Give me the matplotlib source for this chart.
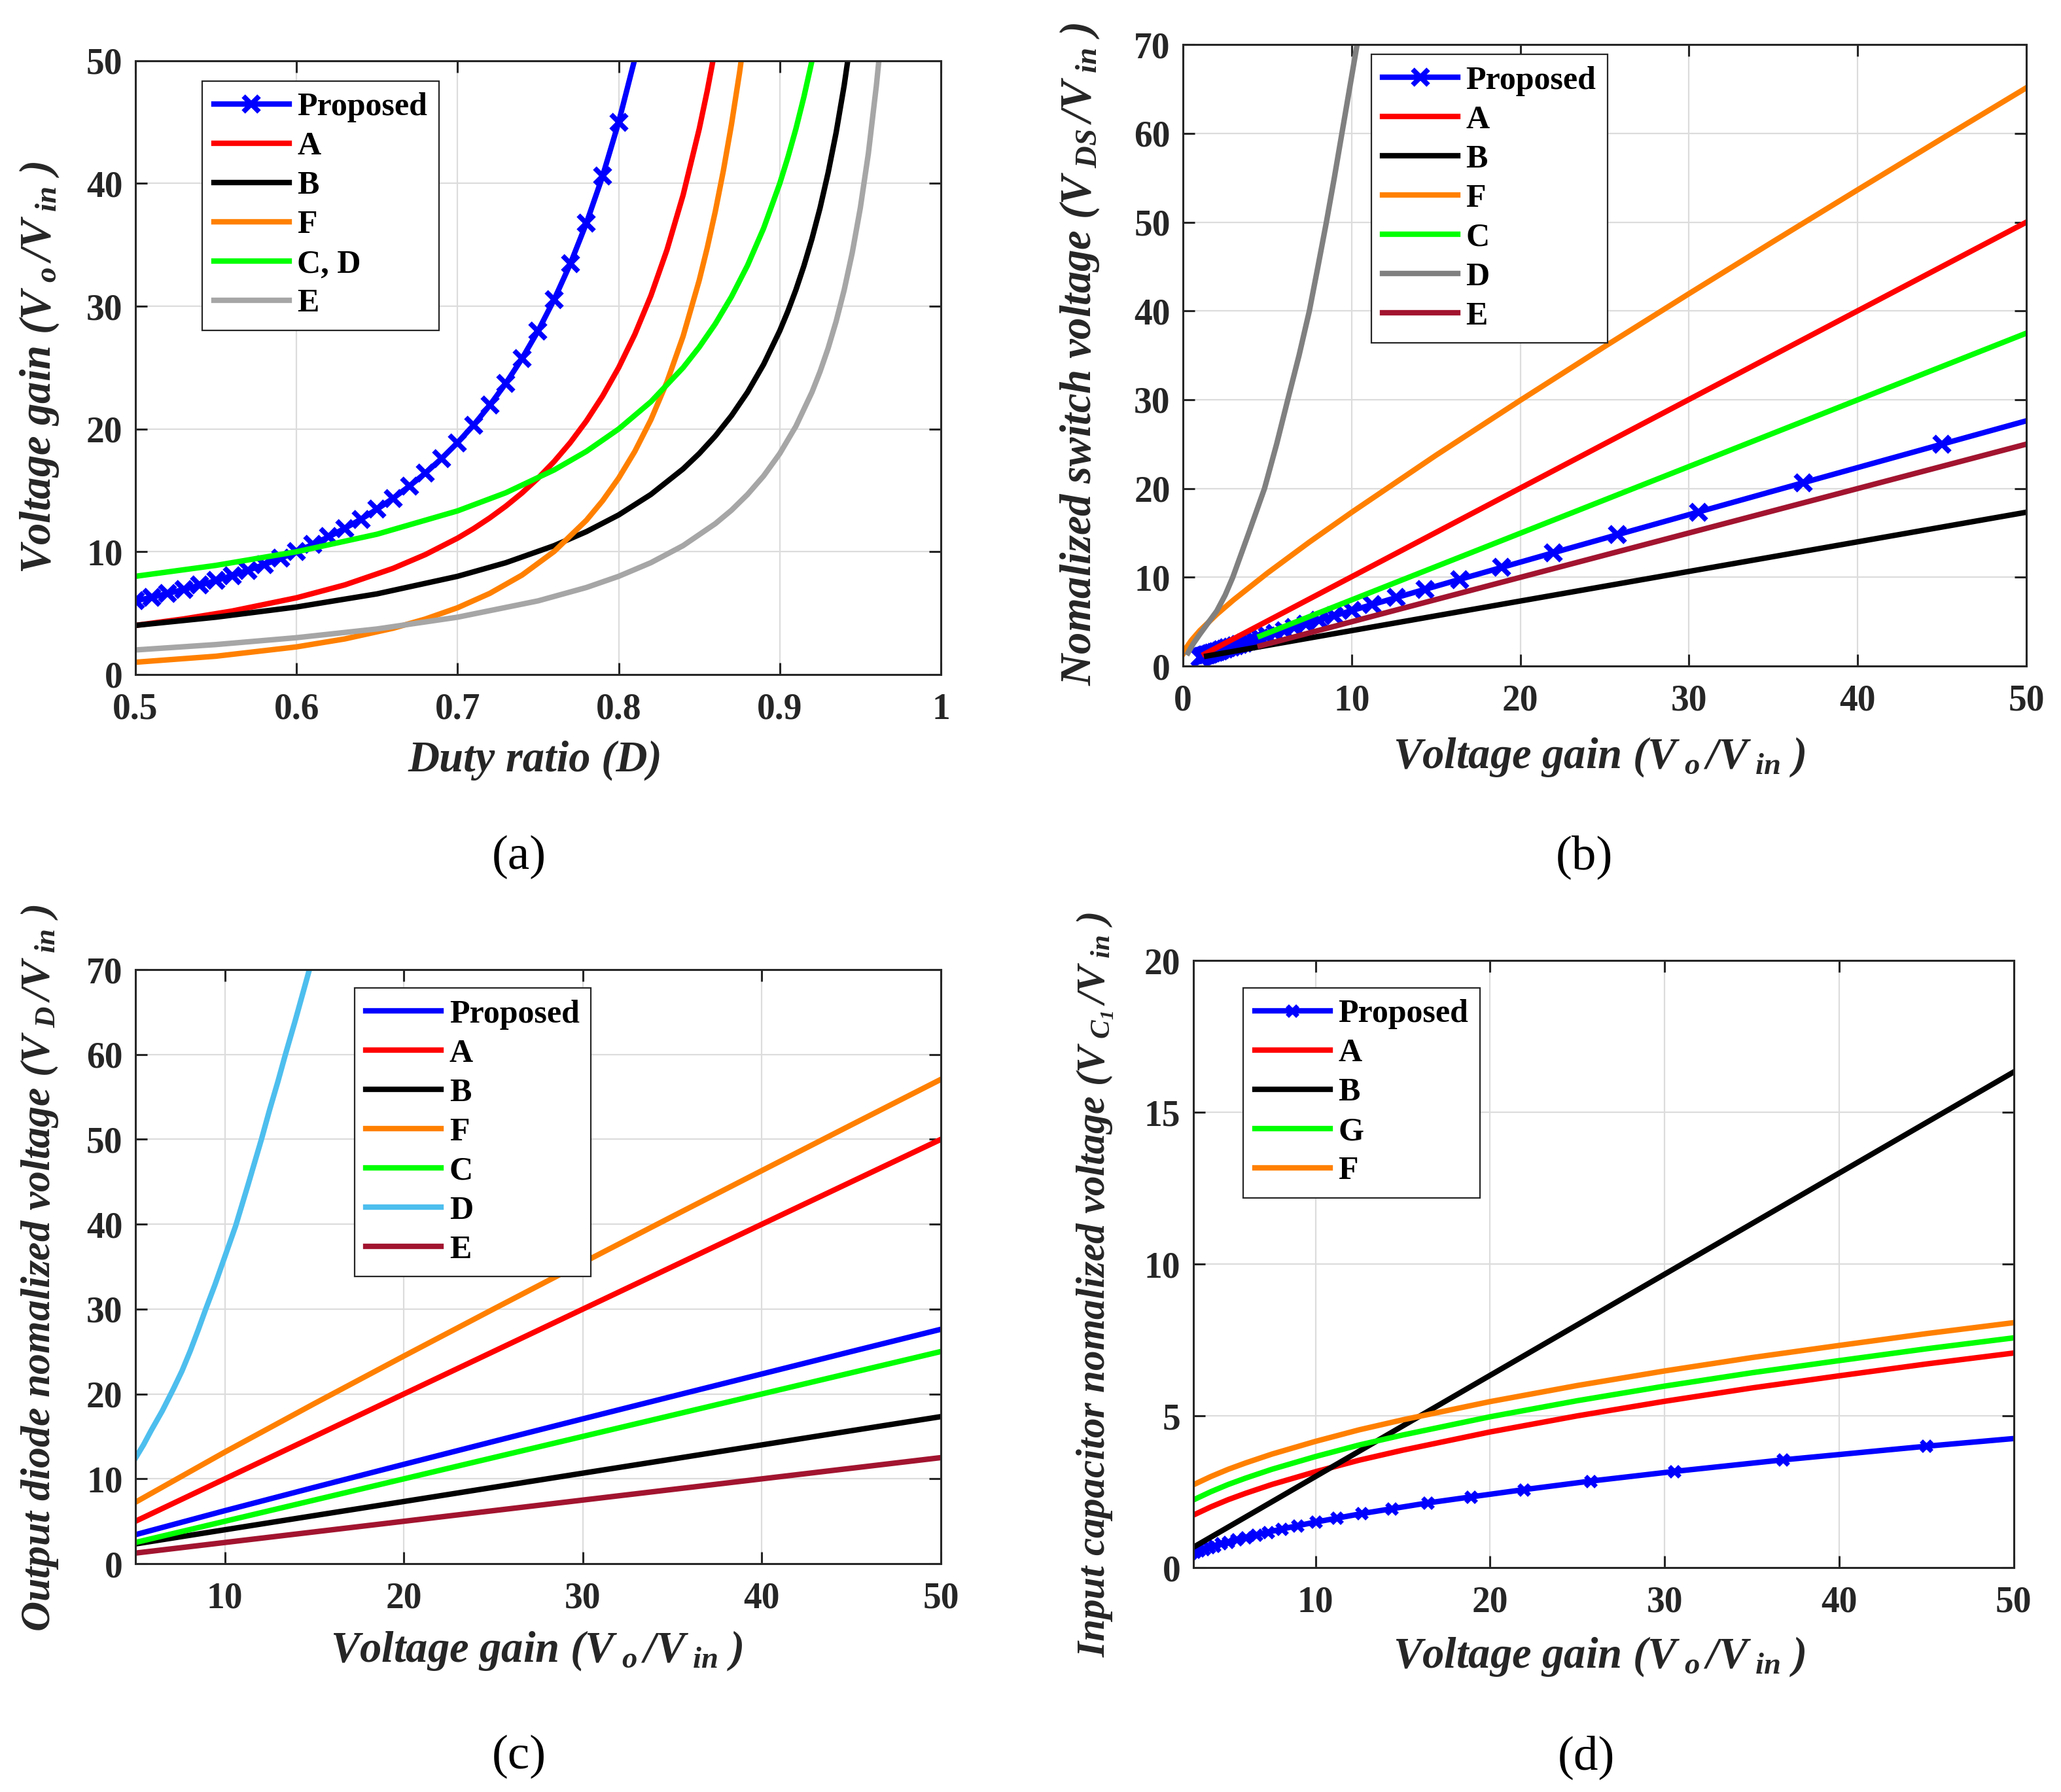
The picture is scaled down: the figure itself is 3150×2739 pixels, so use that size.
import matplotlib
matplotlib.use('Agg')
import matplotlib.pyplot as plt

plt.rcParams['font.family'] = ['Liberation Serif', 'DejaVu Serif']
plt.rcParams['font.weight'] = 'bold'
plt.rcParams['mathtext.fontset'] = 'custom'
plt.rcParams['mathtext.rm'] = 'Liberation Serif:italic:bold'
plt.rcParams['mathtext.it'] = 'Liberation Serif:italic:bold'
plt.rcParams['mathtext.bf'] = 'Liberation Serif:italic:bold'

# ---------- (a) gain vs duty ratio ----------
a_prop_d = [0.50, 0.51, 0.52, 0.53, 0.54, 0.55, 0.56, 0.57, 0.58, 0.59, 0.60,
            0.61, 0.62, 0.63, 0.64, 0.65, 0.66, 0.67, 0.68, 0.69, 0.70,
            0.71, 0.72, 0.73, 0.74, 0.75, 0.76, 0.77, 0.78, 0.79, 0.80, 0.81]
a_prop_g = [6.00, 6.29, 6.60, 6.93, 7.28, 7.65, 8.06, 8.49, 8.96, 9.46, 10.00,
            10.59, 11.22, 11.91, 12.65, 13.47, 14.36, 15.34, 16.41, 17.59, 18.89,
            20.33, 21.94, 23.73, 25.74, 28.00, 30.56, 33.46, 36.78, 40.59, 45.00, 50.14]
a_A_d = [0.50, 0.53, 0.56, 0.60, 0.63, 0.66, 0.68, 0.70, 0.71, 0.72, 0.73, 0.74, 0.75,
         0.76, 0.77, 0.78, 0.79, 0.80, 0.81, 0.82, 0.83, 0.84, 0.85, 0.855, 0.86]
a_A_g = [4.00, 4.53, 5.17, 6.25, 7.30, 8.65, 9.77, 11.11, 11.89, 12.76, 13.72, 14.79, 16.00,
         17.36, 18.90, 20.66, 22.68, 25.00, 27.70, 30.86, 34.60, 39.06, 44.44, 47.56, 51.02]
a_B_d = [0.50, 0.55, 0.60, 0.65, 0.70, 0.73, 0.76, 0.78, 0.80, 0.82, 0.84, 0.85, 0.86, 0.87,
         0.88, 0.89, 0.90, 0.905, 0.91, 0.915, 0.92, 0.925, 0.93, 0.935, 0.94, 0.945]
a_B_g = [4.00, 4.67, 5.50, 6.57, 8.00, 9.11, 10.50, 11.64, 13.00, 14.67, 16.75, 18.00, 19.43, 21.08,
         23.00, 25.27, 28.00, 29.58, 31.33, 33.29, 35.50, 38.00, 40.86, 44.15, 48.00, 52.55]
a_F_d = [0.50, 0.55, 0.60, 0.63, 0.66, 0.68, 0.70, 0.72, 0.74, 0.76, 0.78, 0.79, 0.80,
         0.81, 0.82, 0.83, 0.84, 0.85, 0.855, 0.86, 0.865, 0.87, 0.875, 0.88]
a_F_g = [1.00, 1.49, 2.25, 2.90, 3.77, 4.52, 5.44, 6.61, 8.10, 10.03, 12.57, 14.15, 16.00,
         18.17, 20.75, 23.84, 27.56, 32.11, 34.77, 37.73, 41.05, 44.79, 49.00, 53.78]
a_CD_d = [0.50, 0.55, 0.60, 0.65, 0.70, 0.73, 0.76, 0.78, 0.80, 0.82, 0.84, 0.85, 0.86,
          0.87, 0.88, 0.89, 0.90, 0.905, 0.91, 0.915, 0.92]
a_CD_g = [8.00, 8.89, 10.00, 11.43, 13.33, 14.81, 16.67, 18.18, 20.00, 22.22, 25.00, 26.67, 28.57,
          30.77, 33.33, 36.36, 40.00, 42.11, 44.44, 47.06, 50.00]
a_E_d = [0.50, 0.55, 0.60, 0.65, 0.70, 0.75, 0.78, 0.80, 0.82, 0.84, 0.86, 0.87, 0.88, 0.89,
         0.90, 0.91, 0.92, 0.925, 0.93, 0.935, 0.94, 0.945, 0.95, 0.955, 0.96, 0.962]
a_E_g = [2.00, 2.44, 3.00, 3.71, 4.67, 6.00, 7.09, 8.00, 9.11, 10.50, 12.29, 13.38, 14.67, 16.18,
         18.00, 20.22, 23.00, 24.67, 26.57, 28.77, 31.33, 34.36, 38.00, 42.44, 48.00, 50.63]

# ---------- (b) switch voltage vs gain ----------
b_prop_g = [1.00, 1.06, 1.13, 1.20, 1.28, 1.36, 1.45, 1.54, 1.64, 1.76, 1.88,
            2.01, 2.15, 2.30, 2.47, 2.65, 2.86, 3.08, 3.32, 3.59, 3.89,
            4.22, 4.59, 5.01, 5.47, 6.00, 6.60, 7.28, 8.06, 8.96, 10.00,
            11.22, 12.65, 14.36, 16.41, 18.89, 21.94, 25.74, 30.56, 36.78, 45.00, 50.14]
b_prop_v = [1.00, 1.04, 1.09, 1.13, 1.18, 1.23, 1.29, 1.35, 1.42, 1.49, 1.56,
            1.64, 1.73, 1.83, 1.93, 2.04, 2.16, 2.30, 2.44, 2.60, 2.78,
            2.97, 3.19, 3.43, 3.70, 4.00, 4.34, 4.73, 5.17, 5.67, 6.25,
            6.93, 7.72, 8.65, 9.77, 11.11, 12.76, 14.79, 17.36, 20.66, 25.00, 27.70]
b_A_g = [1.27, 50.0]
b_A_v = [1.35, 50.0]
b_B_g = [1.4, 50.0]
b_B_v = [1.13, 17.33]
b_F_g = [0.0, 0.05, 0.1, 0.2, 0.5, 1, 2, 3, 5, 7.5, 10, 15, 20, 25, 30, 35, 40, 45, 50]
b_F_v = [1.35, 1.50, 1.73, 2.09, 2.91, 4.00, 5.83, 7.46, 10.47, 13.98, 17.32, 23.75, 29.94, 36.00,
         41.95, 47.83, 53.65, 59.42, 65.14]
b_C_g = [4.57, 50.0]
b_C_v = [3.38, 37.5]
b_D_g = [0.30, 0.6, 1.0, 1.5, 2.0, 2.5, 2.95, 3.9, 4.83, 5.55, 6.21, 6.88, 7.49, 8.0,
         8.50, 8.97, 9.42, 9.87, 10.32]
b_D_v = [1.5, 2.5, 3.6, 4.9, 6.2, 8.0, 10, 15, 20, 25, 30, 35, 40, 45,
         50, 55, 60, 65, 70]
b_E_g = [4.57, 50.0]
b_E_v = [2.28, 25.0]

# ---------- (c) output diode voltage vs gain ----------
c_gain = [5, 10, 15, 20, 25, 30, 35, 40, 45, 50]
c_prop = [3.42, 6.25, 9.00, 11.71, 14.40, 17.07, 19.72, 22.36, 25.00, 27.62]
c_A = [5, 10, 15, 20, 25, 30, 35, 40, 45, 50]
c_B = [2.33, 4.00, 5.67, 7.33, 9.00, 10.67, 12.33, 14.00, 15.67, 17.33]
c_F = [7.24, 13.16, 18.87, 24.47, 30.00, 35.48, 40.92, 46.32, 51.71, 57.07]
c_C = [2.5, 5.0, 7.5, 10.0, 12.5, 15.0, 17.5, 20.0, 22.5, 25.0]
c_E = [1.25, 2.5, 3.75, 5.0, 6.25, 7.5, 8.75, 10.0, 11.25, 12.5]
c_D_g = [5.02, 5.45, 5.88, 6.5, 7.1, 7.6, 8.07, 8.5, 8.93, 9.45, 9.95, 10.6, 11.3, 12.04,
         12.5, 12.96, 13.38, 13.93, 14.72]
c_D_v = [12.5, 14.0, 15.7, 18.0, 20.5, 22.7, 25.1, 27.5, 30.0, 32.9, 35.9, 39.8, 44.7, 50.0,
         53.5, 56.8, 60.0, 64.0, 70.0]

# ---------- (d) input capacitor voltage vs gain ----------
d_gain = [3, 4, 5, 6, 7.5, 10, 12.5, 15, 20, 25, 30, 35, 40, 45, 50]
d_A = [1.73, 2.00, 2.24, 2.45, 2.74, 3.16, 3.54, 3.87, 4.47, 5.00, 5.48, 5.92, 6.32, 6.71, 7.07]
d_G = [2.23, 2.50, 2.74, 2.95, 3.24, 3.66, 4.04, 4.37, 4.97, 5.50, 5.98, 6.42, 6.82, 7.21, 7.57]
d_F = [2.73, 3.00, 3.24, 3.45, 3.74, 4.16, 4.54, 4.87, 5.47, 6.00, 6.48, 6.92, 7.32, 7.71, 8.07]
d_B_g = [3, 50]
d_B_v = [0.67, 16.33]
d_prop_g = [2.86, 3.08, 3.32, 3.59, 3.89, 4.22, 4.59, 5.01, 5.47, 6.00, 6.60, 7.28, 8.06,
            8.96, 10.00, 11.22, 12.65, 14.36, 16.41, 18.89, 21.94, 25.74, 30.56, 36.78, 45.00, 50.14]
d_prop_v = [0.47, 0.52, 0.56, 0.61, 0.67, 0.72, 0.79, 0.85, 0.92, 1.00, 1.08, 1.17, 1.27,
            1.38, 1.50, 1.63, 1.78, 1.94, 2.13, 2.33, 2.57, 2.85, 3.17, 3.55, 4.00, 4.26]

BLUE, RED, BLACK, ORANGE, GREEN = '#0000FF', '#FF0000', '#000000', '#FF8000', '#00FF00'
LGRAY, GRAY, DRED, LBLUE = '#A6A6A6', '#808080', '#A2142F', '#4DBEEE'
LW = 6
TXT = '#262626'
GAIN = r'Voltage gain ($V_{\ o}\,/V_{\ in}$ )'

fig = plt.figure(figsize=(31.5, 27.39), dpi=100)


def style(ax, xlim, ylim, xticks, yticks, xlabels=None):
    ax.set_xlim(xlim)
    ax.set_ylim(ylim)
    ax.set_xticks(xticks)
    if xlabels is not None:
        ax.set_xticklabels(xlabels)
    ax.set_yticks(yticks)
    ax.grid(True, color='#DCDCDC', linewidth=1.6)
    ax.set_axisbelow(True)
    ax.tick_params(direction='in', length=13, width=2.2, top=True, right=True,
                   labelsize=40, colors=TXT)
    ax.tick_params(axis='x', pad=20)
    ax.tick_params(axis='y', pad=14)
    for lab in ax.get_xticklabels() + ax.get_yticklabels():
        lab.set_fontweight('bold')
    for s in ax.spines.values():
        s.set_linewidth(2.2)
        s.set_color(TXT)


def labels(ax, xl, yl, xpos, ypos, ysize=48):
    ax.set_xlabel(xl, fontsize=48, fontweight='bold', fontstyle='italic', color=TXT)
    ax.set_ylabel(yl, fontsize=ysize, fontweight='bold', fontstyle='italic', color=TXT)
    ax.xaxis.label.set_va('center')
    ax.yaxis.label.set_va('center')
    ax.xaxis.set_label_coords(*xpos)
    ax.yaxis.set_label_coords(*ypos)


def legend(ax, anchor):
    leg = ax.legend(loc='upper left', bbox_to_anchor=anchor, prop={'size': 36, 'weight': 'bold'},
                    frameon=True, fancybox=False, edgecolor=TXT, framealpha=1,
                    handlelength=2.3, labelspacing=0.28, borderpad=0.35,
                    handletextpad=0.25, borderaxespad=0)
    leg.get_frame().set_linewidth(1.6)


mk = dict(marker='x', markersize=17, markeredgewidth=5.5)

# (a)
ax = fig.add_axes([0.0657, 0.6236, 0.3908, 0.3425])
ax.plot(a_prop_d, a_prop_g, color=BLUE, lw=LW, markevery=slice(0, 31), label='Proposed', **mk)
ax.plot(a_A_d, a_A_g, color=RED, lw=LW, label='A')
ax.plot(a_B_d, a_B_g, color=BLACK, lw=LW, label='B')
ax.plot(a_F_d, a_F_g, color=ORANGE, lw=LW, label='F')
ax.plot(a_CD_d, a_CD_g, color=GREEN, lw=LW, label='C, D')
ax.plot(a_E_d, a_E_g, color=LGRAY, lw=LW, label='E')
style(ax, (0.5, 1), (0, 50), [0.5, 0.6, 0.7, 0.8, 0.9, 1.0], range(0, 51, 10),
      ['0.5', '0.6', '0.7', '0.8', '0.9', '1'])
labels(ax, 'Duty ratio (D)', GAIN, (0.496, -0.14), (-0.119, 0.5))
legend(ax, (0.083, 0.967))

# (b)
ax = fig.add_axes([0.574, 0.6283, 0.4092, 0.3468])
ax.plot(b_prop_g, b_prop_v, color=BLUE, lw=LW, markevery=slice(0, 41), label='Proposed', **mk)
ax.plot(b_A_g, b_A_v, color=RED, lw=LW, label='A')
ax.plot(b_B_g, b_B_v, color=BLACK, lw=LW, label='B')
ax.plot(b_F_g, b_F_v, color=ORANGE, lw=LW, label='F')
ax.plot(b_C_g, b_C_v, color=GREEN, lw=LW, label='C')
ax.plot(b_D_g, b_D_v, color=GRAY, lw=LW, label='D')
ax.plot(b_E_g, b_E_v, color=DRED, lw=LW, label='E')
style(ax, (0, 50), (0, 70), range(0, 51, 10), range(0, 71, 10))
labels(ax, GAIN, r'Nomalized switch voltage ($V_{\ DS}\,/V_{\ in}$ )',
       (0.494, -0.146), (-0.123, 0.502))
legend(ax, (0.223, 0.984))

# (c)
ax = fig.add_axes([0.0657, 0.1274, 0.3908, 0.3315])
ax.plot(c_gain, c_prop, color=BLUE, lw=LW, label='Proposed')
ax.plot(c_gain, c_A, color=RED, lw=LW, label='A')
ax.plot(c_gain, c_B, color=BLACK, lw=LW, label='B')
ax.plot(c_gain, c_F, color=ORANGE, lw=LW, label='F')
ax.plot(c_gain, c_C, color=GREEN, lw=LW, label='C')
ax.plot(c_D_g, c_D_v, color=LBLUE, lw=LW, label='D')
ax.plot(c_gain, c_E, color=DRED, lw=LW, label='E')
style(ax, (5, 50), (0, 70), range(10, 51, 10), range(0, 71, 10))
labels(ax, GAIN, r'Output diode nomalized voltage ($V_{\ D}\,/V_{\ in}$ )',
       (0.498, -0.146), (-0.119, 0.498), ysize=46)
legend(ax, (0.272, 0.969))

# (d)
ax = fig.add_axes([0.579, 0.1252, 0.3981, 0.3388])
ax.plot(d_prop_g, d_prop_v, color=BLUE, lw=LW, markevery=slice(0, 25), label='Proposed',
        marker='x', markersize=12, markeredgewidth=5)
ax.plot(d_gain, d_A, color=RED, lw=LW, label='A')
ax.plot(d_B_g, d_B_v, color=BLACK, lw=LW, label='B')
ax.plot(d_gain, d_G, color=GREEN, lw=LW, label='G')
ax.plot(d_gain, d_F, color=ORANGE, lw=LW, label='F')
style(ax, (3, 50), (0, 20), range(10, 51, 10), range(0, 21, 5))
labels(ax, GAIN, r'Input capacitor nomalized voltage ($V_{\ C_1}\,/V_{\ in}$ )',
       (0.495, -0.147), (-0.119, 0.466), ysize=44)
legend(ax, (0.061, 0.955))

for x, y, t in [(0.252, 0.5217, '(a)'), (0.7686, 0.5217, '(b)'),
                (0.252, 0.0194, '(c)'), (0.7698, 0.0194, '(d)')]:
    fig.text(x, y, t, fontsize=54, fontweight='normal', ha='center', va='center', color='black')

fig.savefig('out.png', dpi=100)
